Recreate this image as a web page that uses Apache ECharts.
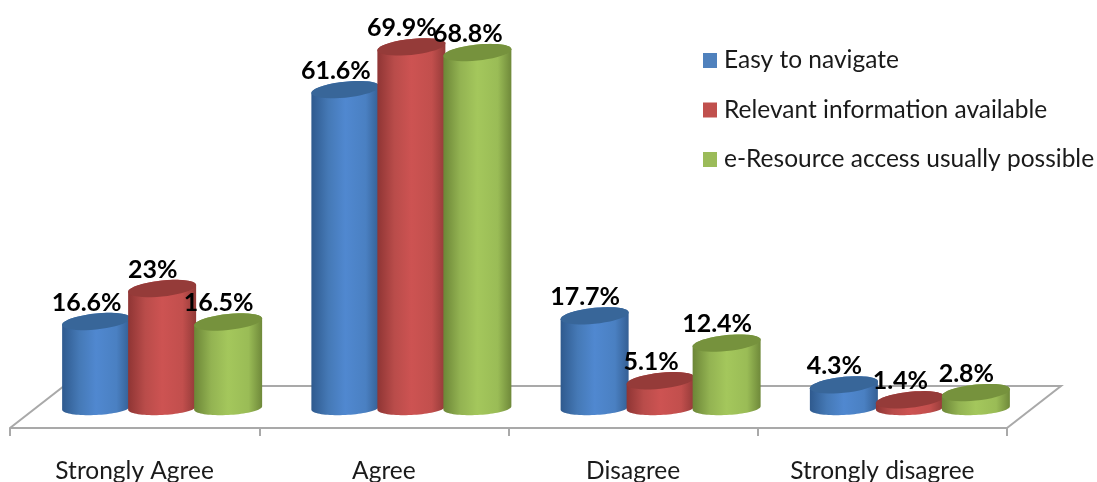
<!DOCTYPE html>
<html>
<head>
<meta charset="utf-8">
<style>html,body{margin:0;padding:0;background:#fff}#chart{width:1097px;height:482px}</style>
<script src="https://cdn.jsdelivr.net/npm/echarts@6/dist/echarts.min.js"></script>
</head>
<body>
<div id="chart"></div>
<script>
// Survey responses, in percent
const categories = ['Strongly Agree', 'Agree', 'Disagree', 'Strongly disagree'];
const easyToNavigate = [16.6, 61.6, 17.7, 4.3];
const relevantInformation = [23, 69.9, 5.1, 1.4];
const resourceAccess = [16.5, 68.8, 12.4, 2.8];

const seriesNames = ['Easy to navigate', 'Relevant information available', 'e-Resource access usually possible'];
const legendColors = ['#4f81bd', '#c0504d', '#9bbb59'];
const bodyShades = [
  ['#2f5a8e', '#4579b6', '#5088d0', '#4a80c2', '#345f94'],
  ['#8f3534', '#b94c4a', '#cd5352', '#c24f4d', '#923a38'],
  ['#6c8637', '#93b352', '#a4c75c', '#9abc56', '#6f893a']
];
const capShades = ['#386699', '#953b39', '#76923d'];

const FONT = 'Lato, "Open Sans", sans-serif';
const BAR_WIDTH = 68;
const SLOT_STEP = 66;
const DEPTH_SHIFT = 27.5;
const FLOOR_DX = 54;
const FLOOR_DY = 21;

// Sampled ellipse, sheared so the right side sits higher than the left
function arcPoints(cx, cy, rx, ry, shear, fromDeg, toDeg) {
  const pts = [];
  const steps = 40;
  for (let i = 0; i <= steps; i++) {
    const t = (fromDeg + (toDeg - fromDeg) * i / steps) * Math.PI / 180;
    pts.push([cx + rx * Math.cos(t), cy + ry * Math.sin(t) - shear * rx * Math.cos(t)]);
  }
  return pts;
}

function cylinderSeries(name, values, slot) {
  return {
    type: 'custom',
    name: name,
    z: 3 + slot,
    itemStyle: { color: legendColors[slot] },
    data: values.map((v, i) => [i, v]),
    renderItem(params, api) {
      const top = api.coord([api.value(0), api.value(1)]);
      const base = api.coord([api.value(0), 0]);
      const cx = top[0] + DEPTH_SHIFT + (slot - 1) * SLOT_STEP;
      const rx = BAR_WIDTH / 2;
      const shades = bodyShades[slot];
      const body = arcPoints(cx, base[1] + 1, rx, 7, 0.05, 0, 180)
        .concat(arcPoints(cx, top[1], rx, 8, 0.1, 180, 360));
      return {
        type: 'group',
        children: [
          {
            type: 'polygon',
            shape: { points: body },
            style: {
              fill: {
                type: 'linear', x: 0, y: 0, x2: 1, y2: 0,
                colorStops: [
                  { offset: 0, color: shades[0] },
                  { offset: 0.25, color: shades[1] },
                  { offset: 0.5, color: shades[2] },
                  { offset: 0.8, color: shades[3] },
                  { offset: 1, color: shades[4] }
                ]
              }
            }
          },
          {
            type: 'polygon',
            shape: { points: arcPoints(cx, top[1], rx, 8, 0.1, 0, 360) },
            style: { fill: capShades[slot] }
          }
        ]
      };
    }
  };
}

function labelSeries(name, values, slot) {
  return {
    type: 'custom',
    name: name,
    z: 10,
    itemStyle: { color: legendColors[slot] },
    data: values.map((v, i) => [i, v]),
    renderItem(params, api) {
      const top = api.coord([api.value(0), api.value(1)]);
      return {
        type: 'text',
        x: top[0] + DEPTH_SHIFT + (slot - 1) * SLOT_STEP - 9.5,
        y: top[1] - 19,
        style: {
          text: api.value(1) + '%',
          fill: '#000',
          font: 'bold 25px ' + FONT,
          align: 'center',
          verticalAlign: 'middle'
        }
      };
    }
  };
}

// Parallelogram floor whose front edge is the category axis line
const floorSeries = {
  type: 'custom',
  z: 1,
  silent: true,
  data: [[0, 0]],
  renderItem(params, api) {
    const box = params.coordSys;
    const y0 = api.coord([0, 0])[1];
    const left = box.x;
    const right = box.x + box.width;
    return {
      type: 'polyline',
      shape: {
        points: [
          [left, y0 + FLOOR_DY],
          [left + FLOOR_DX, y0 - FLOOR_DY],
          [right + FLOOR_DX, y0 - FLOOR_DY],
          [right, y0 + FLOOR_DY]
        ]
      },
      style: { fill: 'none', stroke: '#a9a9a9', lineWidth: 2 }
    };
  }
};

const chart = echarts.init(document.getElementById('chart'));
chart.setOption({
  animation: false,
  backgroundColor: '#fff',
  grid: { left: 10, top: 0, width: 997, height: 407, outerBoundsMode: 'none' },
  xAxis: {
    type: 'category',
    data: categories,
    offset: FLOOR_DY,
    axisLine: { onZero: false, lineStyle: { color: '#a9a9a9', width: 2 } },
    axisTick: { show: true, alignWithLabel: false, length: 8, lineStyle: { color: '#a9a9a9', width: 2 } },
    axisLabel: { margin: 31, fontFamily: FONT, fontSize: 24.5, color: '#1a1a1a', interval: 0 }
  },
  yAxis: { type: 'value', min: 0, max: 79, show: false },
  legend: {
    orient: 'vertical',
    left: 698,
    top: 43,
    icon: 'rect',
    itemWidth: 14,
    itemHeight: 15,
    itemGap: 24.5,
    data: seriesNames,
    selectedMode: false,
    textStyle: { fontFamily: FONT, fontSize: 24.5, color: '#1a1a1a', padding: [0, 0, 0, 2] }
  },
  series: [
    floorSeries,
    cylinderSeries(seriesNames[0], easyToNavigate, 0),
    cylinderSeries(seriesNames[1], relevantInformation, 1),
    cylinderSeries(seriesNames[2], resourceAccess, 2),
    labelSeries(seriesNames[0], easyToNavigate, 0),
    labelSeries(seriesNames[1], relevantInformation, 1),
    labelSeries(seriesNames[2], resourceAccess, 2)
  ]
});
</script>
</body>
</html>
